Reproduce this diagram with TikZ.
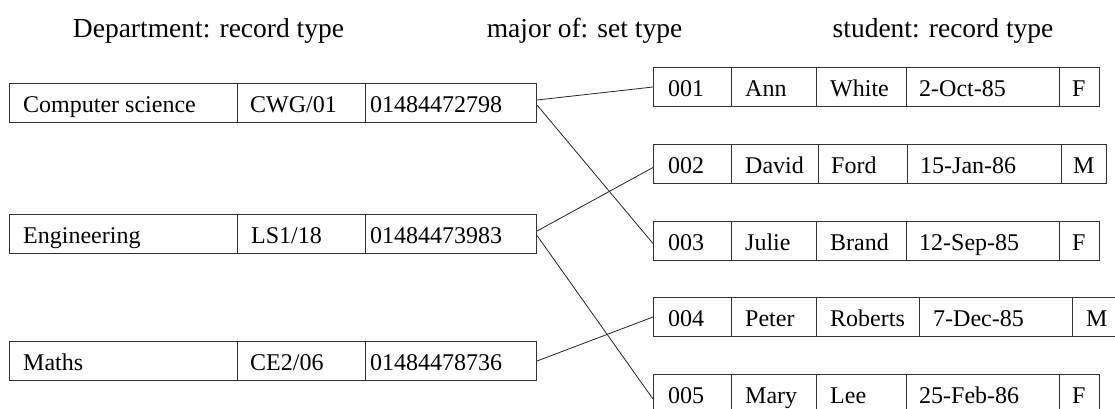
\documentclass[tikz,border=0pt]{standalone}
\usepackage{fontspec}
\setmainfont{Liberation Serif}[Ligatures=TeX]
\newfontfamily\recordfont{Liberation Serif}

% One field of a record: name, left, top, width, text indent, text
\newcommand\recfield[6]{%
  \node[cell, minimum width=#4pt] (#1) at (#2,#3) {};
  \node[celltext] (#1-t) at ([xshift=#5pt, yshift=11pt]#1.south west) {#6};}

\begin{document}
\begin{tikzpicture}[x=1pt, y=-1pt,
  cell/.style={draw=black!80, line width=1pt, anchor=north west,
               minimum height=39pt, inner sep=0pt},
  celltext/.style={anchor=base west, inner sep=0pt,
                   font=\recordfont\fontsize{24}{28}\selectfont},
  heading/.style={anchor=base, inner sep=0pt,
                  font=\recordfont\fontsize{27.5}{32}\selectfont},
  link/.style={draw=black!85, line width=0.8pt}]

\clip (0,0) rectangle (1115,408);

% headings
\node[heading] (h1) at (208.5,37) {Department: record type};
\node[heading] (h2) at (584.5,37) {major of: set type};
\node[heading] (h3) at (943,37)   {student: record type};

% Department records
\recfield{d1a}{9}{83}{228}{14}{Computer science}
\recfield{d1b}{237}{83}{128}{13}{CWG/01}
\recfield{d1c}{365}{83}{171}{5}{01484472798}

\recfield{d2a}{9}{214}{228}{14}{Engineering}
\recfield{d2b}{237}{214}{128}{14}{LS1/18}
\recfield{d2c}{365}{214}{171}{5}{01484473983}

\recfield{d3a}{9}{341}{228}{14}{Maths}
\recfield{d3b}{237}{341}{128}{13}{CE2/06}
\recfield{d3c}{365}{341}{171}{5}{01484478736}

% student records
\recfield{s1a}{653}{67}{78}{15}{001}
\recfield{s1b}{731}{67}{85}{14}{Ann}
\recfield{s1c}{816}{67}{90}{14}{White}
\recfield{s1d}{906}{67}{153}{13}{2-Oct-85}
\recfield{s1e}{1059}{67}{40}{13}{F}

\recfield{s2a}{653}{144}{78}{15}{002}
\recfield{s2b}{731}{144}{87}{14}{David}
\recfield{s2c}{818}{144}{89}{13}{Ford}
\recfield{s2d}{907}{144}{154}{13}{15-Jan-86}
\recfield{s2e}{1061}{144}{45}{12}{M}

\recfield{s3a}{653}{221}{78}{15}{003}
\recfield{s3b}{731}{221}{85}{14}{Julie}
\recfield{s3c}{816}{221}{90}{14}{Brand}
\recfield{s3d}{906}{221}{153}{13}{12-Sep-85}
\recfield{s3e}{1059}{221}{40}{13}{F}

\recfield{s4a}{653}{297}{78}{15}{004}
\recfield{s4b}{731}{297}{85}{14}{Peter}
\recfield{s4c}{816}{297}{103}{14}{Roberts}
\recfield{s4d}{919}{297}{153}{14}{7-Dec-85}
\recfield{s4e}{1072}{297}{50}{14}{M}

\recfield{s5a}{653}{374}{78}{15}{005}
\recfield{s5b}{731}{374}{85}{14}{Mary}
\recfield{s5c}{816}{374}{90}{14}{Lee}
\recfield{s5d}{906}{374}{153}{13}{25-Feb-86}
\recfield{s5e}{1059}{374}{40}{13}{F}

% major of: owner -> members
\draw[link] ([yshift=3pt]d1c.east)  -- (s1a.west);
\draw[link] ([yshift=-2pt]d1c.east) -- ([yshift=-2.5pt]s3a.west);
\draw[link] ([yshift=3pt]d2c.east)  -- ([yshift=-3.5pt]s2a.west);
\draw[link] ([yshift=-1.5pt]d2c.east) -- ([yshift=-5pt]s5a.west);
\draw[link] (d3c.east) -- (s4a.west);
\end{tikzpicture}
\end{document}
